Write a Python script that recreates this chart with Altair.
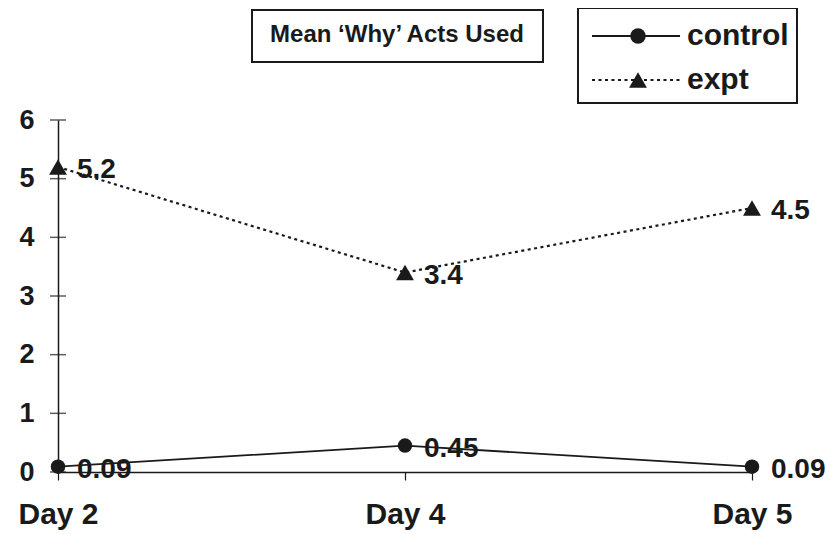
import altair as alt
import pandas as pd

days = ["Day 2", "Day 4", "Day 5"]
control = [0.09, 0.45, 0.09]
expt = [5.2, 3.4, 4.5]
y_ticks = [0, 1, 2, 3, 4, 5, 6]
title_text = "Mean \u2018Why\u2019 Acts Used"
series_names = ["control", "expt"]

rows = []
for d, c in zip(days, control):
    rows.append({"day": d, "value": c, "series": "control", "label": f"{c:g}"})
for d, e in zip(days, expt):
    rows.append({"day": d, "value": e, "series": "expt", "label": f"{e:g}"})
df = pd.DataFrame(rows)
ticks_df = pd.DataFrame({"day": [days[0]] * len(y_ticks), "tick": y_ticks})
one = pd.DataFrame({"a": [0]})

FONT = "Liberation Sans"
INK = "#1a1a1a"

xs = alt.Scale(type="point", domain=days, padding=0)
ys = alt.Scale(domain=[0, 6], nice=False, zero=True)

X = alt.X("day:N", scale=xs, sort=days, axis=alt.Axis(
    title=None, labelAngle=0, labelFontSize=30, labelFont=FONT, labelFontWeight="bold",
    labelColor=INK, tickSize=8, tickColor=INK, domainColor=INK, domainWidth=1.5,
    tickWidth=1.2, labelPadding=19, grid=False))
Y = alt.Y("value:Q", scale=ys, axis=alt.Axis(
    title=None, values=y_ticks, format="d", labelFontSize=27, labelFont=FONT, labelFontWeight="bold",
    labelColor=INK, ticks=False, domainColor=INK, domainWidth=1.5, labelPadding=24, grid=False))

base = alt.Chart(df)

line_expt = base.transform_filter(alt.datum.series == "expt").mark_line(
    color=INK, strokeWidth=2.2, strokeDash=[3, 3.5]).encode(x=X, y=Y)
line_ctrl = base.transform_filter(alt.datum.series == "control").mark_line(
    color=INK, strokeWidth=1.8).encode(x=X, y=Y)
pts = base.mark_point(filled=True, color=INK, opacity=1).encode(
    x=X, y=Y,
    shape=alt.Shape("series:N", scale=alt.Scale(domain=series_names, range=["circle", "triangle-up"]), legend=None),
    size=alt.Size("series:N", scale=alt.Scale(domain=series_names, range=[210, 320]), legend=None))
labels = base.mark_text(align="left", baseline="middle", dx=19, dy=3, fontSize=28,
                        font=FONT, fontWeight="bold", color=INK).encode(x=X, y=Y, text="label:N")

yticks = alt.Chart(ticks_df).mark_tick(orient="horizontal", size=16, thickness=1.5, color=INK).encode(
    x=alt.X("day:N", scale=xs, sort=days), y=alt.Y("tick:Q", scale=ys))

# title box
title_box = alt.Chart(one).mark_rect(fill="white", stroke=INK, strokeWidth=2).encode(
    x=alt.value(194), x2=alt.value(485), y=alt.value(-110), y2=alt.value(-58))
title_txt = alt.Chart(one).mark_text(align="center", baseline="middle", fontSize=24, font=FONT,
                                     fontWeight="bold", color=INK).encode(
    x=alt.value(339), y=alt.value(-85), text=alt.value(title_text))

# legend
leg_box = alt.Chart(one).mark_rect(fill="white", stroke=INK, strokeWidth=2).encode(
    x=alt.value(520), x2=alt.value(739), y=alt.value(-112), y2=alt.value(-17))
leg_l1 = alt.Chart(one).mark_rule(color=INK, strokeWidth=1.8).encode(
    x=alt.value(534), x2=alt.value(622), y=alt.value(-84))
leg_l2 = alt.Chart(one).mark_rule(color=INK, strokeWidth=2.2, strokeDash=[3, 3.5]).encode(
    x=alt.value(534), x2=alt.value(622), y=alt.value(-40))
leg_p1 = alt.Chart(one).mark_point(filled=True, color=INK, size=240, shape="circle", opacity=1).encode(
    x=alt.value(580), y=alt.value(-84))
leg_p2 = alt.Chart(one).mark_point(filled=True, color=INK, size=320, shape="triangle-up", opacity=1).encode(
    x=alt.value(580), y=alt.value(-40))
leg_t1 = alt.Chart(one).mark_text(align="left", baseline="middle", fontSize=30, font=FONT,
                                  fontWeight="bold", color=INK).encode(
    x=alt.value(629), y=alt.value(-84), text=alt.value(series_names[0]))
leg_t2 = alt.Chart(one).mark_text(align="left", baseline="middle", fontSize=30, font=FONT,
                                  fontWeight="bold", color=INK).encode(
    x=alt.value(629), y=alt.value(-40), text=alt.value(series_names[1]))

chart = alt.layer(
    line_ctrl, line_expt, yticks, pts, labels,
    title_box, title_txt, leg_box, leg_l1, leg_l2, leg_p1, leg_p2, leg_t1, leg_t2
).properties(
    width=694, height=352,
    autosize=alt.AutoSizeParams(type="none"),
    padding={"left": 50, "top": 112, "right": 77, "bottom": 62},
    background="white"
).configure_view(stroke=None)

chart.save("out.html", embed_options={"renderer": "svg", "actions": False})
